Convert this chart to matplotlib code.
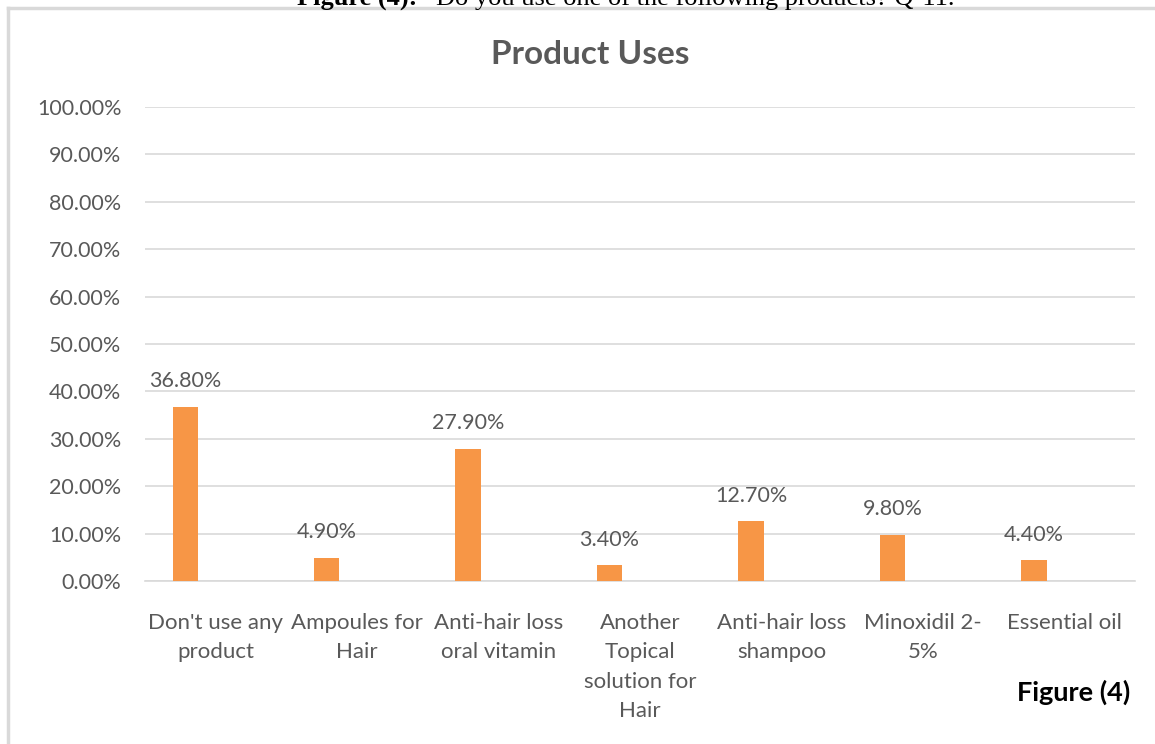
import numpy as np
import matplotlib
matplotlib.use("Agg")
import matplotlib.pyplot as plt
from matplotlib.lines import Line2D
from matplotlib.ticker import FuncFormatter

# data
categories = ["Don't use any\nproduct", "Ampoules for\nHair", "Anti-hair loss\noral vitamin",
              "Another\nTopical\nsolution for\nHair", "Anti-hair loss\nshampoo",
              "Minoxidil 2-\n5%", "Essential oil"]
values = [0.368, 0.049, 0.279, 0.034, 0.127, 0.098, 0.044]
yticks = [0.0, 0.1, 0.2, 0.3, 0.4, 0.5, 0.6, 0.7, 0.8, 0.9, 1.0]

plt.rcParams['font.family'] = ['Lato', 'DejaVu Sans']
grey = '#595959'

fig = plt.figure(figsize=(11.55, 7.44), dpi=100)
ax = fig.add_axes([145 / 1155, 1 - 581 / 744, 990 / 1155, (581 - 107) / 744])

x = np.arange(len(categories))
# bars sit left of the category centre, as in the original Excel chart
bar_x = x - 0.215
ax.bar(bar_x, values, width=0.18, color='#f79646', zorder=3)

for xi, v in zip(bar_x, values):
    ax.annotate(f"{v * 100:.2f}%", (xi, v), xytext=(0, 11), textcoords='offset points',
                ha='center', va='bottom', fontsize=15.5, color=grey)

ax.set_xlim(-0.5, len(categories) - 0.5)
ax.set_ylim(0, 1.0)
ax.set_yticks(yticks)
ax.yaxis.set_major_formatter(FuncFormatter(lambda v, p: f"{v * 100:.2f}%"))
ax.set_xticks(x)
ax.set_xticklabels(categories, linespacing=1.58)
ax.tick_params(axis='both', length=0, labelsize=15.5, colors=grey)
ax.tick_params(axis='x', labelsize=16, pad=23)
ax.tick_params(axis='y', pad=17)
for lab in ax.get_xticklabels():
    lab.set_verticalalignment('top')

ax.grid(axis='y', color='#d9d9d9', linewidth=1.2, zorder=0)
for s in ['top', 'right', 'left']:
    ax.spines[s].set_visible(False)
ax.spines['bottom'].set_color('#d9d9d9')
ax.spines['bottom'].set_linewidth(1.2)

fig.text(590 / 1155, 1 - 55 / 744, "Product Uses", ha='center', va='center',
         fontsize=24, fontweight='bold', color=grey)
fig.text(1130 / 1155, 1 - 692 / 744, "Figure (4)", ha='right', va='center',
         fontsize=19.5, fontweight='bold', color='black')

# caption above the chart, cut at the image top
fig.text(297 / 1155, 1 - 5 / 744, "Figure (4):", ha='left', va='baseline',
         fontsize=19, fontweight='bold', family='Liberation Serif', color='black')
fig.text(436 / 1155, 1 - 5 / 744, "Do you use one of the following products? Q-11.",
         ha='left', va='baseline', fontsize=19, family='Liberation Serif', color='black')

# chart border
fig.add_artist(Line2D([8 / 1155, 8 / 1155], [0, 1 - 8 / 744], transform=fig.transFigure,
                      color='#d9d9d9', linewidth=2.5))
fig.add_artist(Line2D([8 / 1155, 1], [1 - 8 / 744, 1 - 8 / 744], transform=fig.transFigure,
                      color='#d9d9d9', linewidth=2.5))

fig.savefig("out.png", dpi=100)
